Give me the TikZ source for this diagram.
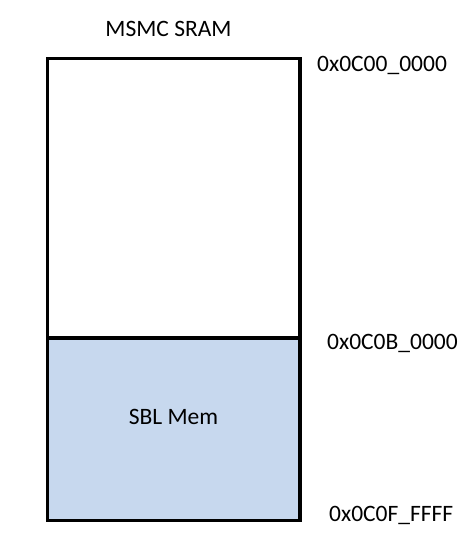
\documentclass[tikz,border=0pt]{standalone}
\usepackage{fontspec}
\setmainfont{Carlito}
\definecolor{memblue}{RGB}{199,216,238}
\begin{document}
\begin{tikzpicture}[x=1pt,y=-1pt,
  lbl/.style={font=\fontsize{23.5}{28}\selectfont, inner sep=0pt},
  box/.style={line width=3.5pt}]
\useasboundingbox (0,0) rectangle (473,555);
\coordinate (tl) at (47.5,58.5);
\coordinate (br) at (300,520.5);
\coordinate (ml) at (47.5,338);
\coordinate (mr) at (300,338);
\fill[memblue] (ml) rectangle (br);
\draw[box] (tl) rectangle (br);
\draw[box] (ml) -- (mr);
\node[lbl, anchor=base] (title) at (168.5,36) {MSMC SRAM};
\node[lbl, anchor=base west] (a0) at (317,71) {0x0C00\_0000};
\node[lbl, anchor=base west] (a1) at (327,349) {0x0C0B\_0000};
\node[lbl, anchor=base west] (a2) at (329,521) {0x0C0F\_FFFF};
\node[lbl, anchor=base] (sbl) at (173.5,424) {SBL Mem};
\end{tikzpicture}
\end{document}
